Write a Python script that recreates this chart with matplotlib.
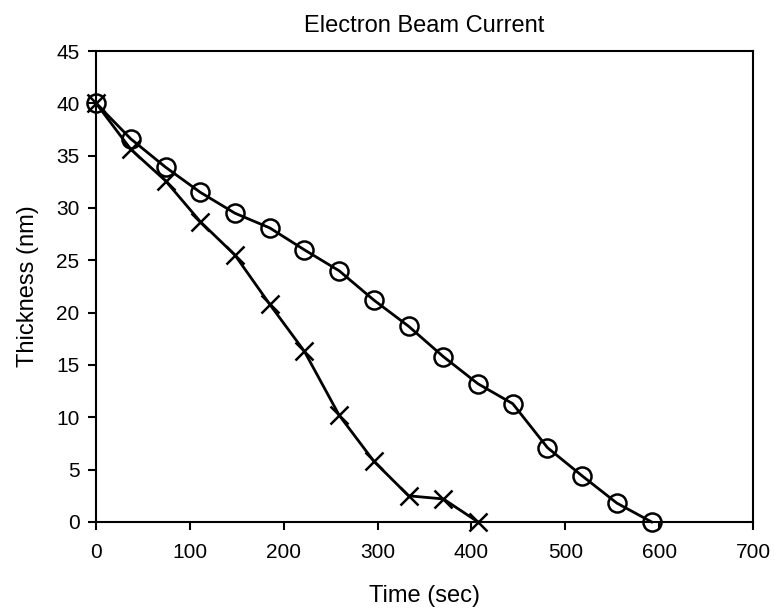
import matplotlib.pyplot as plt
import matplotlib as mpl

mpl.rcParams["font.family"] = ["Liberation Sans", "DejaVu Sans"]

# time points (sec)
time_o = [0, 37, 74, 111, 148, 185, 222, 259, 296, 333, 370, 407, 444, 481, 518, 555, 592]
thick_o = [40, 36.6, 33.9, 31.5, 29.5, 28.1, 26.0, 24.0, 21.2, 18.7, 15.8, 13.2, 11.3, 7.1, 4.4, 1.8, 0]

time_x = [0, 37, 74, 111, 148, 185, 222, 259, 296, 333, 370, 407]
thick_x = [40, 35.6, 32.6, 28.7, 25.5, 20.8, 16.3, 10.2, 5.8, 2.5, 2.2, 0]

fig = plt.figure(figsize=(7.75, 6.13), dpi=100)
ax = fig.add_axes([0.124, 0.1485, 0.8476, 0.7683])

ax.plot(time_o, thick_o, color="black", lw=2, marker="o", ms=13,
        mfc="none", mec="black", mew=1.8, clip_on=False, zorder=3)
ax.plot(time_x, thick_x, color="black", lw=2, marker="x", ms=13,
        mec="black", mew=1.8, clip_on=False, zorder=3)

ax.set_xlim(0, 700)
ax.set_ylim(0, 45)
ax.set_xticks(range(0, 701, 100))
ax.set_yticks(range(0, 46, 5))
ax.tick_params(direction="out", length=6, width=1.5, labelsize=15)
ax.tick_params(axis="x", pad=9)
ax.tick_params(axis="y", pad=6)
for s in ax.spines.values():
    s.set_linewidth(1.5)

ax.set_title("Electron Beam Current", fontsize=17, pad=14)
ax.set_xlabel("Time (sec)", fontsize=17, labelpad=17)
ax.set_ylabel("Thickness (nm)", fontsize=17, labelpad=12)

fig.savefig("out.png", dpi=100)
